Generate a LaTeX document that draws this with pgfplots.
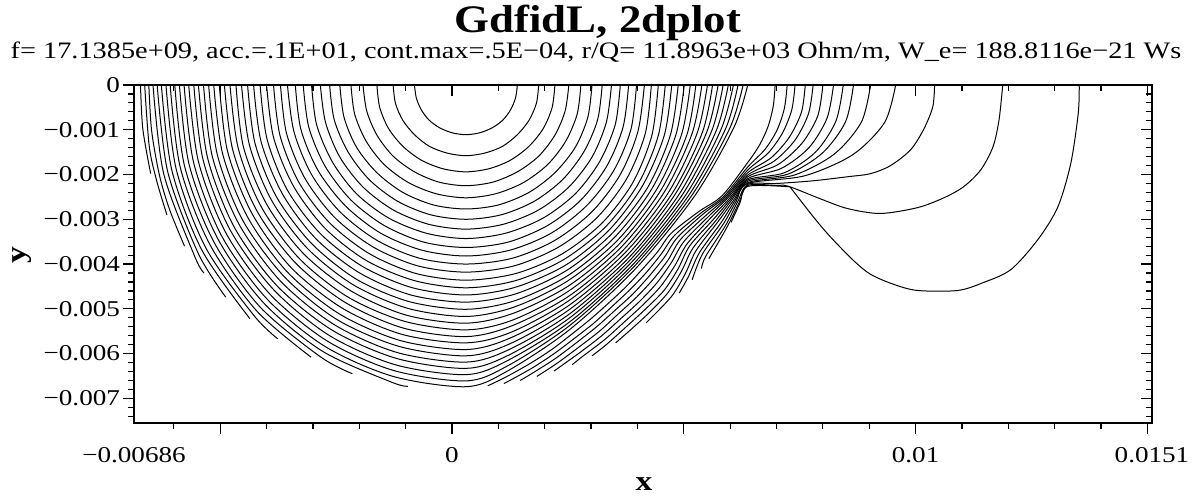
\documentclass[border=0pt]{standalone}
\usepackage{pgfplots}
\pgfplotsset{compat=1.18}
\usepackage{fontspec}
\setmainfont{Liberation Serif}[FakeStretch=1.2]
\newfontfamily\titlefont{Liberation Serif}[FakeStretch=1.15]
\pgfplotsset{cl/.style={black, line width=0.5pt, smooth, mark=none}}
\begin{document}
\begin{tikzpicture}
\path[use as bounding box] (-67pt,-36.5pt) rectangle (532pt,211.5pt);
\begin{axis}[
  at={(0pt,0pt)}, anchor=south west, scale only axis,
  width=509pt, height=169pt,
  xmin=-6.86, xmax=15.1, ymin=-7.55, ymax=0,
  axis line style={line width=1.2pt},
  tick align=outside, xtick pos=left, ytick pos=left,
  xtick={-5,0,5,10,15}, xticklabels={,0,,0.01,},
  extra x ticks={-6.86,15.1}, extra x tick labels={−0.00686,0.0151},
  extra x tick style={tick style={draw=none}},
  minor xtick={-6,-5,...,15},
  ytick={-7,-6,...,0},
  yticklabels={−0.007,−0.006,−0.005,−0.004,−0.003,−0.002,−0.001,0},
  minor ytick={-7.4,-7.2,...,0},
  major tick length=5.5pt, minor tick length=2.8pt,
  tick style={black, line width=0.6pt},
  ticklabel style={font=\fontsize{11.3}{12}\selectfont},
  xticklabel style={yshift=-3pt},
  yticklabel style={xshift=2pt},
]
% ---- closed family (left and right halves) ----
\addplot[cl] coordinates {(-0.81,0) (-0.77,-0.29) (-0.66,-0.56) (-0.49,-0.79) (-0.26,-0.96) (0.01,-1.07) (0.30,-1.11) (0.59,-1.07) (0.86,-0.96) (1.09,-0.79) (1.26,-0.56) (1.37,-0.29) (1.41,0)};
\addplot[cl] coordinates {(-1.27,0) (-1.22,-0.41) (-1.06,-0.79) (-0.81,-1.11) (-0.49,-1.37) (-0.11,-1.52) (0.30,-1.58) (0.71,-1.52) (1.09,-1.37) (1.41,-1.11) (1.66,-0.79) (1.82,-0.41) (1.87,0)};
\addplot[cl] coordinates {(-1.62,0) (-1.56,-0.50) (-1.37,-0.97) (-1.06,-1.37) (-0.66,-1.68) (-0.20,-1.87) (0.30,-1.94) (0.80,-1.87) (1.26,-1.68) (1.66,-1.37) (1.97,-0.97) (2.16,-0.50) (2.22,0)};
\addplot[cl] coordinates {(-1.92,0) (-1.84,-0.58) (-1.62,-1.12) (-1.27,-1.59) (-0.81,-1.94) (-0.28,-2.17) (0.30,-2.25) (0.88,-2.17) (1.41,-1.94) (1.87,-1.59) (2.22,-1.12) (2.44,-0.58) (2.52,0)};
\addplot[cl] coordinates {(-2.18,0) (-2.10,-0.65) (-1.85,-1.26) (-1.46,-1.78) (-0.94,-2.18) (-0.34,-2.43) (0.30,-2.52) (0.94,-2.43) (1.54,-2.18) (2.06,-1.78) (2.45,-1.26) (2.70,-0.65) (2.78,0)};
\addplot[cl] coordinates {(-2.42,0) (-2.33,-0.72) (-2.06,-1.39) (-1.62,-1.96) (-1.06,-2.40) (-0.40,-2.68) (0.30,-2.77) (1.00,-2.68) (1.66,-2.40) (2.22,-1.96) (2.66,-1.39) (2.93,-0.72) (3.02,0)};
\addplot[cl] coordinates {(-2.64,0) (-2.54,-0.78) (-2.24,-1.50) (-1.78,-2.12) (-1.17,-2.60) (-0.46,-2.90) (0.30,-3.00) (1.06,-2.90) (1.77,-2.60) (2.38,-2.12) (2.84,-1.50) (3.14,-0.78) (3.24,0)};
\addplot[cl] coordinates {(-2.84,0) (-2.73,-0.83) (-2.42,-1.61) (-1.92,-2.28) (-1.27,-2.79) (-0.51,-3.11) (0.30,-3.22) (1.11,-3.11) (1.87,-2.79) (2.52,-2.28) (3.02,-1.61) (3.33,-0.83) (3.44,0)};
\addplot[cl] coordinates {(-3.03,0) (-2.92,-0.89) (-2.58,-1.72) (-2.06,-2.43) (-1.37,-2.97) (-0.56,-3.31) (0.30,-3.43) (1.16,-3.31) (1.97,-2.97) (2.66,-2.43) (3.18,-1.72) (3.52,-0.89) (3.63,0)};
\addplot[cl] coordinates {(-3.21,0) (-3.09,-0.94) (-2.74,-1.81) (-2.18,-2.57) (-1.46,-3.14) (-0.61,-3.51) (0.30,-3.63) (1.21,-3.51) (2.06,-3.14) (2.78,-2.57) (3.34,-1.81) (3.69,-0.94) (3.81,0)};
\addplot[cl] coordinates {(-3.38,0) (-3.26,-0.99) (-2.89,-1.91) (-2.30,-2.70) (-1.54,-3.31) (-0.65,-3.69) (0.30,-3.82) (1.25,-3.69) (2.14,-3.31) (2.90,-2.70) (3.49,-1.91) (3.86,-0.99) (3.98,0)};
\addplot[cl] coordinates {(-3.55,0) (-3.41,-1.04) (-3.03,-2.00) (-2.42,-2.83) (-1.62,-3.47) (-0.70,-3.87) (0.30,-4.00) (1.30,-3.87) (2.22,-3.47) (3.02,-2.83) (3.63,-2.00) (4.01,-1.04) (4.15,0)};
\addplot[cl] coordinates {(-3.70,0) (-3.57,-1.08) (-3.17,-2.09) (-2.53,-2.96) (-1.70,-3.62) (-0.74,-4.04) (0.30,-4.18) (1.34,-4.04) (2.30,-3.62) (3.13,-2.96) (3.77,-2.09) (4.17,-1.08) (4.30,0)};
\addplot[cl] coordinates {(-3.85,0) (-3.71,-1.13) (-3.30,-2.18) (-2.64,-3.08) (-1.78,-3.77) (-0.78,-4.21) (0.30,-4.36) (1.38,-4.21) (2.38,-3.77) (3.24,-3.08) (3.90,-2.18) (4.31,-1.13) (4.45,0)};
\addplot[cl] coordinates {(-4.00,0) (-3.85,-1.17) (-3.42,-2.26) (-2.74,-3.20) (-1.85,-3.92) (-0.81,-4.37) (0.30,-4.53) (1.37,-4.37) (2.41,-3.90) (3.31,-3.17) (4.01,-2.22) (4.45,-1.13) (4.60,0)};
\addplot[cl] coordinates {(-4.14,0) (-3.99,-1.21) (-3.55,-2.35) (-2.84,-3.32) (-1.92,-4.06) (-0.85,-4.53) (0.30,-4.69) (1.36,-4.52) (2.44,-4.03) (3.38,-3.25) (4.11,-2.25) (4.58,-1.12) (4.74,0)};
\addplot[cl] coordinates {(-4.28,0) (-4.12,-1.26) (-3.66,-2.43) (-2.94,-3.43) (-1.99,-4.20) (-0.89,-4.69) (0.30,-4.85) (1.36,-4.67) (2.46,-4.15) (3.44,-3.33) (4.22,-2.29) (4.71,-1.12) (4.88,0)};
\addplot[cl] coordinates {(-4.41,0) (-4.25,-1.30) (-3.78,-2.51) (-3.03,-3.54) (-2.06,-4.34) (-0.92,-4.84) (0.30,-5.01) (1.35,-4.82) (2.48,-4.27) (3.50,-3.41) (4.31,-2.32) (4.83,-1.11) (5.01,0)};
\addplot[cl] coordinates {(-4.54,0) (-4.37,-1.34) (-3.89,-2.58) (-3.12,-3.65) (-2.12,-4.47) (-0.95,-4.99) (0.30,-5.17) (1.34,-4.96) (2.49,-4.38) (3.56,-3.48) (4.41,-2.34) (4.95,-1.11) (5.14,0)};
\addplot[cl] coordinates {(-4.66,0) (-4.50,-1.38) (-4.00,-2.66) (-3.21,-3.76) (-2.18,-4.60) (-0.99,-5.14) (0.30,-5.32) (1.32,-5.10) (2.51,-4.49) (3.61,-3.55) (4.50,-2.36) (5.07,-1.10) (5.26,0)};
\addplot[cl] coordinates {(-4.79,0) (-4.61,-1.42) (-4.11,-2.73) (-3.30,-3.87) (-2.24,-4.74) (-1.02,-5.28) (0.30,-5.47) (1.31,-5.25) (2.52,-4.60) (3.66,-3.61) (4.58,-2.39) (5.18,-1.08) (5.39,0)};
\addplot[cl] coordinates {(-4.91,0) (-4.73,-1.45) (-4.21,-2.81) (-3.38,-3.97) (-2.30,-4.86) (-1.05,-5.43) (0.30,-5.62) (1.29,-5.38) (2.53,-4.71) (3.71,-3.67) (4.67,-2.40) (5.29,-1.07) (5.51,0)};
\addplot[cl] coordinates {(-5.02,0) (-4.84,-1.49) (-4.31,-2.88) (-3.47,-4.08) (-2.36,-4.99) (-1.08,-5.57) (0.30,-5.76) (1.28,-5.52) (2.53,-4.81) (3.75,-3.73) (4.75,-2.42) (5.40,-1.06) (5.62,0)};
\addplot[cl] coordinates {(-5.14,0) (-4.95,-1.53) (-4.41,-2.95) (-3.55,-4.18) (-2.42,-5.12) (-1.11,-5.71) (0.30,-5.91) (1.26,-5.65) (2.54,-4.91) (3.79,-3.79) (4.82,-2.43) (5.50,-1.04) (5.74,0)};
\addplot[cl] coordinates {(-5.25,0) (-5.06,-1.57) (-4.51,-3.03) (-3.62,-4.28) (-2.48,-5.24) (-1.14,-5.84) (0.30,-6.05) (1.25,-5.78) (2.54,-5.01) (3.83,-3.84) (4.90,-2.44) (5.60,-1.03) (5.85,0)};
\addplot[cl] coordinates {(-5.36,0) (-5.17,-1.60) (-4.60,-3.10) (-3.70,-4.38) (-2.53,-5.36) (-1.17,-5.98) (0.30,-6.19) (1.23,-5.91) (2.54,-5.11) (3.86,-3.89) (4.97,-2.45) (5.70,-1.02) (5.96,0)};
\addplot[cl] coordinates {(-5.47,0) (-5.27,-1.64) (-4.70,-3.17) (-3.78,-4.48) (-2.58,-5.48) (-1.19,-6.11) (0.30,-6.33) (1.21,-6.04) (2.54,-5.20) (3.89,-3.94) (5.04,-2.46) (5.80,-1.00) (6.07,0)};
\addplot[cl] coordinates {(-5.57,0) (-5.37,-1.67) (-4.79,-3.23) (-3.85,-4.57) (-2.64,-5.60) (-1.22,-6.25) (0.30,-6.47) (1.19,-6.16) (2.54,-5.29) (3.92,-3.99) (5.11,-2.46) (5.90,-0.98) (6.17,0)};
\addplot[cl] coordinates {(-5.68,0) (-5.47,-1.71) (-4.88,-3.30) (-3.93,-4.67) (-2.69,-5.72) (-1.25,-6.38) (0.30,-6.61) (1.17,-6.29) (2.53,-5.38) (3.95,-4.03) (5.17,-2.47) (5.99,-0.97) (6.28,0)};
\addplot[cl] coordinates {(-5.78,0) (-5.57,-1.75) (-4.97,-3.37) (-4.00,-4.77) (-2.74,-5.84) (-1.27,-6.51) (0.30,-6.74) (1.16,-6.41) (2.53,-5.47) (3.98,-4.08) (5.24,-2.47) (6.08,-0.95) (6.38,0)};
% ---- outer lines ending on the left wall ----
\addplot[cl] coordinates {(-5.88,0) (-5.67,-1.78) (-5.05,-3.44) (-4.07,-4.86) (-2.79,-5.95) (-1.30,-6.64) (-0.95,-6.73)};
\addplot[cl] coordinates {(-5.98,0) (-5.77,-1.81) (-5.14,-3.50) (-4.14,-4.96) (-2.84,-6.07) (-2.15,-6.45)};
\addplot[cl] coordinates {(-6.08,0) (-5.86,-1.85) (-5.22,-3.57) (-4.21,-5.05) (-3.04,-6.08)};
\addplot[cl] coordinates {(-6.17,0) (-5.95,-1.88) (-5.31,-3.64) (-4.28,-5.14) (-3.76,-5.67)};
\addplot[cl] coordinates {(-6.27,0) (-6.04,-1.92) (-5.39,-3.70) (-4.36,-5.22)};
\addplot[cl] coordinates {(-6.36,0) (-6.13,-1.95) (-5.47,-3.77) (-4.88,-4.74)};
\addplot[cl] coordinates {(-6.45,0) (-6.22,-1.98) (-5.55,-3.83) (-5.35,-4.20)};
\addplot[cl] coordinates {(-6.54,0) (-6.48,-1.02) (-6.31,-2.02) (-6.09,-2.79) (-5.77,-3.60)};
\addplot[cl] coordinates {(-6.63,0) (-6.53,-1.38) (-6.36,-2.18) (-6.15,-2.90)};
\addplot[cl] coordinates {(-6.72,0) (-6.67,-0.98) (-6.50,-1.98)};
% ---- lines from the right wall, through the aperture above the tip ----
\addplot[cl] coordinates {(0.77,-6.72) (1.15,-6.53) (1.67,-6.23) (2.15,-5.91) (2.59,-5.56) (3.01,-5.21) (3.40,-4.85) (3.77,-4.49) (4.11,-4.11) (4.44,-3.72) (4.73,-3.31) (5.32,-2.83) (5.83,-2.47) (6.38,-1.73) (6.64,-1.33) (6.82,-0.92) (6.93,-0.47) (6.97,0)};
\addplot[cl] coordinates {(1.12,-6.67) (1.70,-6.34) (2.19,-6.01) (2.64,-5.66) (3.07,-5.31) (3.46,-4.94) (3.84,-4.57) (4.19,-4.19) (4.51,-3.78) (4.80,-3.36) (5.37,-2.86) (5.86,-2.49) (6.38,-1.83) (6.75,-1.44) (7.01,-1.01) (7.17,-0.52) (7.23,0)};
\addplot[cl] coordinates {(1.47,-6.60) (1.73,-6.44) (2.23,-6.11) (2.68,-5.76) (3.12,-5.40) (3.52,-5.03) (3.91,-4.66) (4.26,-4.26) (4.58,-3.85) (4.86,-3.41) (5.42,-2.88) (5.89,-2.50) (6.38,-1.90) (6.82,-1.52) (7.13,-1.07) (7.33,-0.55) (7.40,0)};
\addplot[cl] coordinates {(1.83,-6.51) (2.26,-6.22) (2.73,-5.86) (3.18,-5.50) (3.58,-5.12) (3.98,-4.74) (4.34,-4.34) (4.66,-3.91) (4.93,-3.45) (5.48,-2.91) (5.92,-2.51) (6.38,-1.96) (6.89,-1.62) (7.28,-1.16) (7.54,-0.60) (7.62,0)};
\addplot[cl] coordinates {(2.20,-6.39) (2.78,-5.96) (3.23,-5.60) (3.65,-5.21) (4.05,-4.83) (4.42,-4.42) (4.73,-3.97) (5.00,-3.50) (5.53,-2.94) (5.95,-2.52) (6.38,-2.01) (6.95,-1.70) (7.40,-1.23) (7.69,-0.64) (7.79,0)};
\addplot[cl] coordinates {(2.59,-6.25) (2.82,-6.06) (3.29,-5.69) (3.71,-5.30) (4.12,-4.91) (4.50,-4.50) (4.81,-4.03) (5.07,-3.55) (5.58,-2.97) (5.98,-2.54) (6.38,-2.05) (7.03,-1.78) (7.55,-1.30) (7.89,-0.69) (8.00,0)};
\addplot[cl] coordinates {(3.02,-6.05) (3.34,-5.79) (3.77,-5.39) (4.19,-4.99) (4.58,-4.58) (4.88,-4.10) (5.13,-3.59) (5.64,-3.00) (6.01,-2.55) (6.38,-2.09) (7.11,-1.86) (7.70,-1.40) (8.09,-0.74) (8.23,0)};
\addplot[cl] coordinates {(3.53,-5.76) (3.84,-5.48) (4.26,-5.08) (4.65,-4.65) (4.95,-4.16) (5.20,-3.64) (5.69,-3.03) (6.04,-2.56) (6.38,-2.12) (7.17,-1.96) (7.84,-1.50) (8.28,-0.81) (8.44,0)};
\addplot[cl] coordinates {(4.19,-5.31) (4.73,-4.73) (5.03,-4.22) (5.27,-3.69) (5.74,-3.05) (6.07,-2.58) (6.38,-2.15) (7.25,-1.99) (7.99,-1.52) (8.49,-0.82) (8.66,0)};
\addplot[cl] coordinates {(4.90,-4.65) (5.10,-4.28) (5.34,-3.74) (5.80,-3.08) (6.10,-2.59) (6.38,-2.18) (7.39,-2.01) (8.25,-1.54) (8.83,-0.83) (9.03,0)};
\addplot[cl] coordinates {(5.18,-4.35) (5.40,-3.78) (5.85,-3.11) (6.13,-2.60) (6.38,-2.20) (7.60,-2.03) (8.64,-1.56) (9.33,-0.84) (9.57,0)};
\addplot[cl] coordinates {(5.38,-4.10) (5.47,-3.83) (5.90,-3.14) (6.16,-2.61) (6.38,-2.22) (7.00,-2.20) (7.79,-2.14) (8.53,-2.05) (9.03,-1.98) (9.46,-1.80) (9.89,-1.45) (10.17,-1.00) (10.37,-0.49) (10.41,0)};
\addplot[cl] coordinates {(5.54,-3.88) (5.94,-3.16) (6.19,-2.63) (6.38,-2.245) (7.00,-2.245) (7.25,-2.26) (7.94,-2.54) (8.53,-2.76) (9.24,-2.87) (10.04,-2.74) (10.61,-2.52) (11.04,-2.27) (11.41,-1.89) (11.67,-1.38) (11.80,-0.78) (11.88,0)};
\addplot[cl] coordinates {(6.02,-3.07) (6.21,-2.64) (6.38,-2.265) (7.29,-2.275)};
\addplot[cl] coordinates {(7.29,-2.275) (7.79,-2.94) (8.16,-3.39) (8.66,-3.92) (9.03,-4.23) (9.52,-4.45) (10.04,-4.59) (10.91,-4.59) (11.47,-4.41) (12.06,-4.12) (12.64,-3.45) (13.07,-2.72) (13.35,-1.74) (13.51,-0.62) (13.53,0)};
\end{axis}
% mirror axis: ticks on top and right, inside
\begin{axis}[
  at={(0pt,0pt)}, anchor=south west, scale only axis,
  width=509pt, height=169pt,
  xmin=-6.86, xmax=15.1, ymin=-7.55, ymax=0,
  axis line style={line width=1.2pt},
  tick align=inside, xtick pos=right, ytick pos=right,
  xtick={-5,0,5,10,15}, minor xtick={-6,-5,...,15},
  ytick={-7,-6,...,0}, minor ytick={-7.4,-7.2,...,0},
  xticklabel=\empty, yticklabel=\empty,
  major tick length=5.5pt, minor tick length=2.8pt,
  tick style={black, line width=0.6pt},
]
\end{axis}
\node[anchor=base, font=\titlefont\bfseries\fontsize{19.5}{22}\selectfont] at (232pt,195pt) {GdfidL, 2dplot};
\node[anchor=base, font=\fontsize{11.8}{13}\selectfont] at (231pt,182pt) {f= 17.1385e+09, acc.=.1E+01, cont.max=.5E−04, r/Q= 11.8963e+03 Ohm/m, W\_e= 188.8116e−21 Ws};
\node[anchor=base, font=\bfseries\fontsize{14}{16}\selectfont] at (255pt,-34pt) {x};
\node[rotate=90, anchor=center, font=\bfseries\fontsize{14}{16}\selectfont] at (-56pt,84pt) {y};
\end{tikzpicture}
\end{document}
